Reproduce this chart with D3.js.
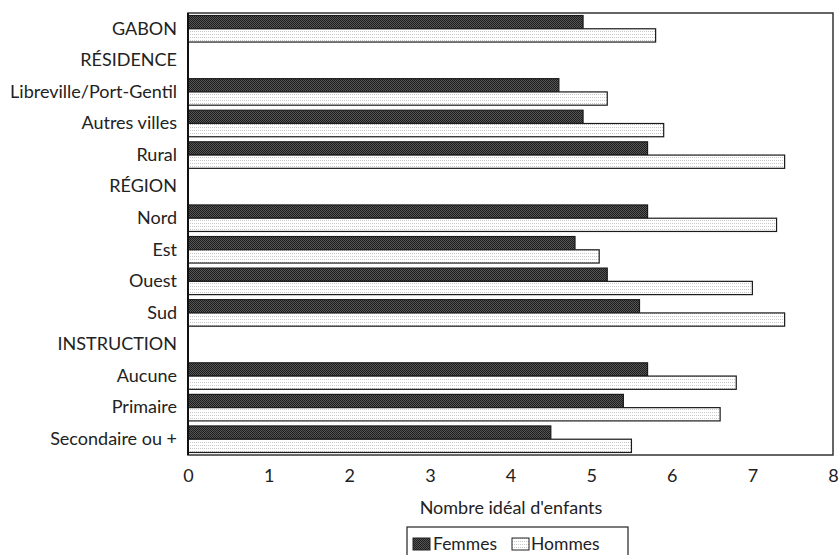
<!DOCTYPE html>
<html>
<head>
<meta charset="utf-8">
<script src="https://cdn.jsdelivr.net/npm/d3@7"></script>
<style>
  body { margin: 0; background: #fff; }
  svg { display: block; }
  text { font-family: "Lato", "Open Sans", sans-serif; fill: #222; }
</style>
</head>
<body>
<svg id="chart" width="840" height="555"></svg>
<script>
const categories = ["GABON", "RÉSIDENCE", "Libreville/Port-Gentil", "Autres villes", "Rural",
  "RÉGION", "Nord", "Est", "Ouest", "Sud", "INSTRUCTION", "Aucune", "Primaire", "Secondaire ou +"];
const femmes = [4.9, null, 4.6, 4.9, 5.7, null, 5.7, 4.8, 5.2, 5.6, null, 5.7, 5.4, 4.5];
const hommes = [5.8, null, 5.2, 5.9, 7.4, null, 7.3, 5.1, 7.0, 7.4, null, 6.8, 6.6, 5.5];
const seriesNames = ["Femmes", "Hommes"];
const xTicks = [0, 1, 2, 3, 4, 5, 6, 7, 8];
const axisTitle = "Nombre idéal d'enfants";

const svg = d3.select("#chart");
const margin = {left: 188, top: 13, right: 833, bottom: 455};
const FS = 18;

const defs = svg.append("defs");
const pf = defs.append("pattern").attr("id", "patF").attr("patternUnits", "userSpaceOnUse")
  .attr("width", 2).attr("height", 2);
pf.append("rect").attr("width", 2).attr("height", 2).attr("fill", "#555");
pf.append("rect").attr("width", 1).attr("height", 1).attr("fill", "#1e1e1e");
pf.append("rect").attr("x", 1).attr("y", 1).attr("width", 1).attr("height", 1).attr("fill", "#1e1e1e");
const ph = defs.append("pattern").attr("id", "patH").attr("patternUnits", "userSpaceOnUse")
  .attr("width", 2).attr("height", 3);
ph.append("rect").attr("width", 2).attr("height", 3).attr("fill", "#ffffff");
ph.append("rect").attr("x", 0).attr("y", 1).attr("width", 1).attr("height", 1).attr("fill", "#c8c8c8");

const x = d3.scaleLinear().domain([0, 8]).range([margin.left, margin.right]);
const y = d3.scaleBand().domain(categories).range([margin.top, margin.bottom])
  .paddingInner(0.16).paddingOuter(0.08);
const ySub = d3.scaleBand().domain(seriesNames).range([0, y.bandwidth()]);

const rows = categories.map((c, i) => ({c, vals: [femmes[i], hommes[i]]}));
const fills = {"Femmes": "url(#patF)", "Hommes": "url(#patH)"};

const g = svg.append("g");
rows.forEach(r => {
  seriesNames.forEach((s, j) => {
    const v = r.vals[j];
    if (v == null) return;
    g.append("rect")
      .attr("x", x(0))
      .attr("y", y(r.c) + ySub(s))
      .attr("width", x(v) - x(0))
      .attr("height", ySub.bandwidth())
      .attr("fill", fills[s])
      .attr("stroke", "#1a1a1a")
      .attr("stroke-width", 1.2);
  });
});

// frame
svg.append("rect")
  .attr("x", margin.left).attr("y", margin.top)
  .attr("width", margin.right - margin.left).attr("height", margin.bottom - margin.top)
  .attr("fill", "none").attr("stroke", "#333").attr("stroke-width", 1.5);
svg.append("line")
  .attr("x1", margin.left).attr("x2", margin.left)
  .attr("y1", margin.top).attr("y2", margin.bottom)
  .attr("stroke", "#111").attr("stroke-width", 2);

// x axis
const xAxis = d3.axisBottom(x).tickValues(xTicks).tickSize(0).tickPadding(14).tickFormat(d3.format("d"));
const xg = svg.append("g").attr("transform", `translate(0,${margin.bottom})`).call(xAxis);
xg.select(".domain").remove();
xg.selectAll("text").attr("font-size", FS).attr("font-family", "Lato, sans-serif").attr("fill", "#222");

// y axis
const yAxis = d3.axisLeft(y).tickSize(0).tickPadding(11);
const yg = svg.append("g").attr("transform", `translate(${margin.left},0)`).call(yAxis);
yg.select(".domain").remove();
yg.selectAll("text").attr("font-size", FS).attr("font-family", "Lato, sans-serif").attr("fill", "#222");

// axis title
svg.append("text").attr("x", 511).attr("y", 514).attr("text-anchor", "middle")
  .attr("font-size", FS).text(axisTitle);

// legend
const lg = svg.append("g");
lg.append("rect").attr("x", 407).attr("y", 527).attr("width", 221).attr("height", 40)
  .attr("fill", "#fff").attr("stroke", "#222").attr("stroke-width", 1.2);
const legendItems = [{s: "Femmes", sx: 413, tx: 433}, {s: "Hommes", sx: 512, tx: 531}];
legendItems.forEach(it => {
  lg.append("rect").attr("x", it.sx).attr("y", 538).attr("width", 17).attr("height", 12)
    .attr("fill", fills[it.s]).attr("stroke", "#222").attr("stroke-width", 1);
  lg.append("text").attr("x", it.tx).attr("y", 550).attr("font-size", 17.5).text(it.s);
});
</script>
</body>
</html>
